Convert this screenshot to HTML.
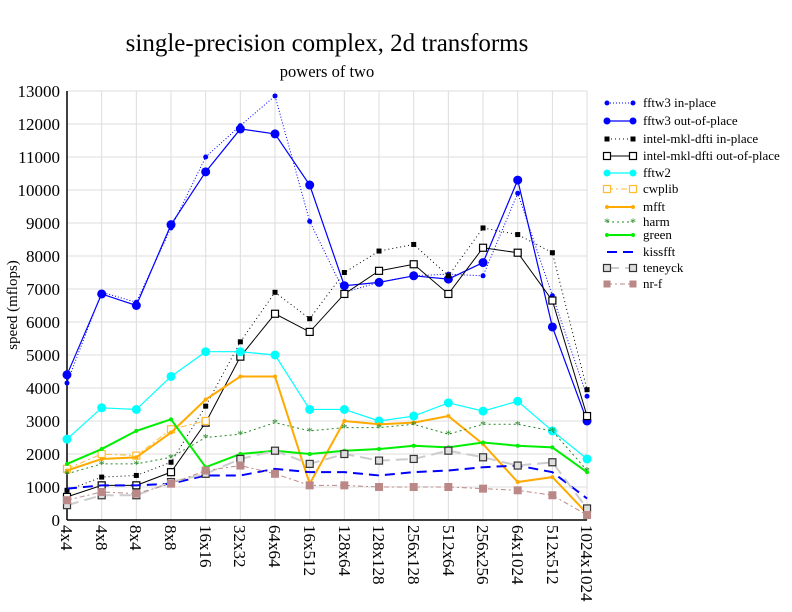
<!DOCTYPE html>
<html><head><meta charset="utf-8"><style>
body{margin:0;background:#fff}
svg{display:block;font-family:"Liberation Serif",serif}
</style></head><body>
<svg id="s" width="792" height="612" xmlns="http://www.w3.org/2000/svg">
<rect width="792" height="612" fill="#fff"/>
<g id="grid"></g>
<text x="327" y="51" font-size="25" text-anchor="middle">single-precision complex, 2d transforms</text>
<text x="327" y="77" font-size="16.5" text-anchor="middle">powers of two</text>
<text transform="translate(17,305) rotate(-90)" font-size="15" text-anchor="middle">speed (mflops)</text>
<g font-size="17" text-anchor="end">
<text x="60" y="526">0</text><text x="60" y="493">1000</text><text x="60" y="460">2000</text><text x="60" y="427">3000</text><text x="60" y="394">4000</text><text x="60" y="361">5000</text><text x="60" y="328">6000</text><text x="60" y="295">7000</text><text x="60" y="262">8000</text><text x="60" y="229">9000</text><text x="60" y="196">10000</text><text x="60" y="163">11000</text><text x="60" y="130">12000</text><text x="60" y="97">13000</text>
</g>
<g font-size="17" id="xl">
<text transform="translate(61,525) rotate(90)">4x4</text>
<text transform="translate(96,525) rotate(90)">4x8</text>
<text transform="translate(130,525) rotate(90)">8x4</text>
<text transform="translate(165,525) rotate(90)">8x8</text>
<text transform="translate(200,525) rotate(90)">16x16</text>
<text transform="translate(234,525) rotate(90)">32x32</text>
<text transform="translate(269,525) rotate(90)">64x64</text>
<text transform="translate(304,525) rotate(90)">16x512</text>
<text transform="translate(339,525) rotate(90)">128x64</text>
<text transform="translate(373,525) rotate(90)">128x128</text>
<text transform="translate(408,525) rotate(90)">256x128</text>
<text transform="translate(443,525) rotate(90)">512x64</text>
<text transform="translate(477,525) rotate(90)">256x256</text>
<text transform="translate(512,525) rotate(90)">64x1024</text>
<text transform="translate(547,525) rotate(90)">512x512</text>
<text transform="translate(581,525) rotate(90)">1024x1024</text>
</g>
<g id="data"></g>
<g font-size="13">
<text x="643" y="107">fftw3 in-place</text>
<text x="643" y="125">fftw3 out-of-place</text>
<text x="643" y="143">intel-mkl-dfti in-place</text>
<text x="643" y="160">intel-mkl-dfti out-of-place</text>
<text x="643" y="177">fftw2</text>
<text x="643" y="193">cwplib</text>
<text x="643" y="211">mfft</text>
<text x="643" y="226">harm</text>
<text x="643" y="239">green</text>
<text x="643" y="256">kissfft</text>
<text x="643" y="272">teneyck</text>
<text x="643" y="288">nr-f</text>
</g>
<g id="leg"></g>
</svg>
<script>
var NS="http://www.w3.org/2000/svg";
function el(p,t,a){var e=document.createElementNS(NS,t);for(var k in a)e.setAttribute(k,a[k]);p.appendChild(e);return e;}
var X0=67,DX=34.67,Y0=520,SY=0.033;
function X(i){return X0+i*DX}function Y(v){return Y0-v*SY}
var g=document.getElementById("grid");
for(var i=0;i<=13;i++)el(g,"line",{x1:X0,x2:X(15),y1:Y(i*1000),y2:Y(i*1000),stroke:"#ddd"});
for(var i=0;i<16;i++)el(g,"line",{x1:X(i),x2:X(i),y1:Y0,y2:Y(13000),stroke:"#ddd"});
el(g,"line",{x1:X0,x2:X0,y1:Y0,y2:Y(13000),stroke:"#000","stroke-width":1.5});
el(g,"line",{x1:X0,x2:X(15),y1:Y0,y2:Y0,stroke:"#000","stroke-width":1.5});
var S=[
["#00f","1,2",1,"dot",2.5,[4150,6900,6600,8850,11000,11950,12850,9050,6900,7200,7400,7450,7400,9900,6800,3750]],
["#00f","",1.2,"dot",4.5,[4400,6850,6500,8950,10550,11850,11700,10150,7100,7200,7400,7300,7800,10300,5850,3000]],
["#000","1,3",1,"sq",2.5,[900,1300,1350,1750,3450,5400,6900,6100,7500,8150,8350,7400,8850,8650,8100,3950]],
["#000","",1,"osq",3.5,[700,1050,1050,1450,2950,4950,6250,5700,6850,7550,7750,6850,8250,8100,6650,3150]],
["#0ff","",1.2,"dot",4.5,[2450,3400,3350,4350,5100,5100,5000,3350,3350,3000,3150,3550,3300,3600,2700,1850]],
["#fb3","6,3,2,3",1,"osq",3.5,[1550,2000,1950,2750,3000]],
["#fa0","",2,"dot",2,[1500,1850,1900,2650,3650,4350,4350,1100,3000,2900,2950,3150,2300,1150,1300,200]],
["#282","2,3",1,"star",3,[1400,1700,1700,1900,2500,2600,2950,2700,2800,2800,2900,2600,2900,2900,2700,1500]],
["#0e0","",2,"dot",2,[1700,2150,2700,3050,1600,2000,2100,2000,2100,2150,2250,2200,2350,2250,2200,1450]],
["#00f","10,6",2,"",0,[950,1050,1050,1100,1350,1350,1550,1450,1450,1350,1450,1500,1600,1650,1450,650]],
["#ccc","12,6",2,"gsq",3.5,[450,750,750,1150,1400,1850,2100,1700,2000,1800,1850,2100,1900,1650,1750,350]],
["#b88","5,3,2,3",1,"fsq",4,[600,850,800,1100,1500,1650,1400,1050,1050,1000,1000,1000,950,900,750,150]]
];
var d=document.getElementById("data"),L=document.getElementById("leg");
var LY=[103,121,139,156,173,189,207,222,235,252,268,284];
function mark(p,m,x,y,r,c){
 if(m=="dot")el(p,"circle",{cx:x,cy:y,r:r,fill:c});
 else if(m=="sq")el(p,"rect",{x:x-r,y:y-r,width:2*r,height:2*r,fill:c});
 else if(m=="fsq")el(p,"rect",{x:x-r,y:y-r,width:2*r,height:2*r,fill:c});
 else if(m=="osq")el(p,"rect",{x:x-r,y:y-r,width:2*r,height:2*r,fill:"#fff",stroke:c,"stroke-width":1.2});
 else if(m=="gsq")el(p,"rect",{x:x-r,y:y-r,width:2*r,height:2*r,fill:"#ddd",stroke:"#333","stroke-width":1.2});
 else if(m=="star")el(p,"text",{x:x,y:y+4,"font-size":12,"text-anchor":"middle",fill:c}).textContent="*";
}
S.forEach(function(s,k){
 var pts=s[5].map(function(v,i){return X(i)+","+Y(v)}).join(" ");
 var a={points:pts,fill:"none",stroke:s[0],"stroke-width":s[2]};if(s[1])a["stroke-dasharray"]=s[1];
 el(d,"polyline",a);
 s[5].forEach(function(v,i){mark(d,s[3],X(i),Y(v),s[4],s[0])});
 var b={x1:607,x2:633,y1:LY[k],y2:LY[k],stroke:s[0],"stroke-width":s[2]};if(s[1])b["stroke-dasharray"]=s[1];
 el(L,"line",b);var r=Math.min(s[4],3.5);mark(L,s[3],607,LY[k],r,s[0]);mark(L,s[3],633,LY[k],r,s[0]);
});
</script>
</body></html>
